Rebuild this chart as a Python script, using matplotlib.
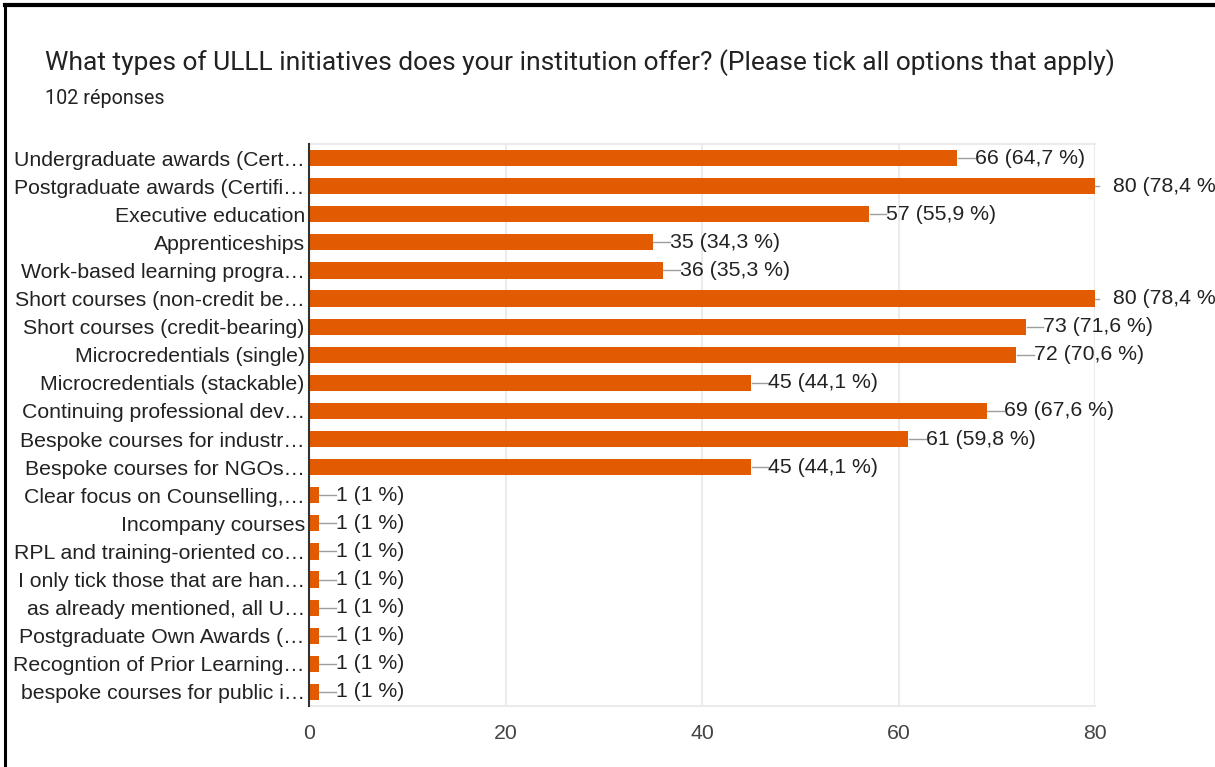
import matplotlib.pyplot as plt
from matplotlib.lines import Line2D

categories = [
    'Undergraduate awards (Cert…',
    'Postgraduate awards (Certifi…',
    'Executive education',
    'Apprenticeships',
    'Work-based learning progra…',
    'Short courses (non-credit be…',
    'Short courses (credit-bearing)',
    'Microcredentials (single)',
    'Microcredentials (stackable)',
    'Continuing professional dev…',
    'Bespoke courses for industr…',
    'Bespoke courses for NGOs…',
    'Clear focus on Counselling,…',
    'Incompany courses',
    'RPL and training-oriented co…',
    'I only tick those that are han…',
    'as already mentioned, all U…',
    'Postgraduate Own Awards (…',
    'Recogntion of Prior Learning…',
    'bespoke courses for public i…',
]
counts = [66, 80, 57, 35, 36, 80, 73, 72, 45, 69, 61, 45, 1, 1, 1, 1, 1, 1, 1, 1]
percents = ['64,7', '78,4', '55,9', '34,3', '35,3', '78,4', '71,6', '70,6', '44,1',
            '67,6', '59,8', '44,1', '1', '1', '1', '1', '1', '1', '1', '1']
xticks = [0, 20, 40, 60, 80]

bar_color = '#e35b00'
grid_color = '#ebebeb'
text_color = '#222222'
fs = 15.3

fig = plt.figure(figsize=(12.15, 7.67), dpi=100)
ax = fig.add_axes([309 / 1215, 1 - 706 / 767, (1095 - 309) / 1215, (706 - 144) / 767])

y = list(range(len(categories)))
ax.barh(y, counts, height=0.58, color=bar_color, zorder=2)
ax.set_ylim(len(categories) - 0.5, -0.5)
ax.set_xlim(0, 80)

xmax = max(counts)
for yi, v, p in zip(y, counts, percents):
    if v < xmax:
        ax.plot([v + 0.05, v + 1.75], [yi, yi], color='#9e9e9e', lw=1, zorder=3, clip_on=False)
        tx = v + 1.75
    else:
        ax.plot([v, v + 0.4], [yi, yi], color='#9e9e9e', lw=1, zorder=3, clip_on=False)
        tx = v + 1.85
    ax.text(tx, yi, f'{v} ({p} %)', va='center', ha='left', fontsize=fs,
            color=text_color, family='Liberation Sans', clip_on=False)

ax.set_yticks(y)
ax.set_yticklabels(categories, fontsize=fs, color=text_color, family='Liberation Sans')
ax.set_xticks(xticks)
ax.set_xticklabels([str(t) for t in xticks], fontsize=fs, color='#444444', family='Liberation Sans')
ax.tick_params(axis='both', length=0)
ax.tick_params(axis='y', pad=3)
ax.tick_params(axis='x', pad=13)

ax.grid(axis='x', color=grid_color, lw=1.5, zorder=0)
for side in ['top', 'bottom']:
    ax.spines[side].set_color(grid_color)
    ax.spines[side].set_linewidth(1.5)
ax.spines['right'].set_visible(False)
ax.spines['left'].set_color('#333333')
ax.spines['left'].set_linewidth(1.5)
ax.spines['left'].set_zorder(4)

fig.text(45 / 1215, 1 - 63 / 767, 'What types of ULLL initiatives does your institution offer? (Please tick all options that apply)',
         fontsize=19, color=text_color, family='Roboto', va='center', ha='left')
fig.text(45 / 1215, 1 - 98 / 767, '102 réponses', fontsize=14.2, color=text_color,
         family='Roboto', va='center', ha='left')

# black frame along the top and left edges
fig.add_artist(Line2D([5 / 1215, 5 / 1215], [0, 1 - 5 / 767], color='black', lw=2.2))
fig.add_artist(Line2D([5 / 1215, 1], [1 - 5 / 767, 1 - 5 / 767], color='black', lw=3))

fig.savefig('out.png', dpi=100)
